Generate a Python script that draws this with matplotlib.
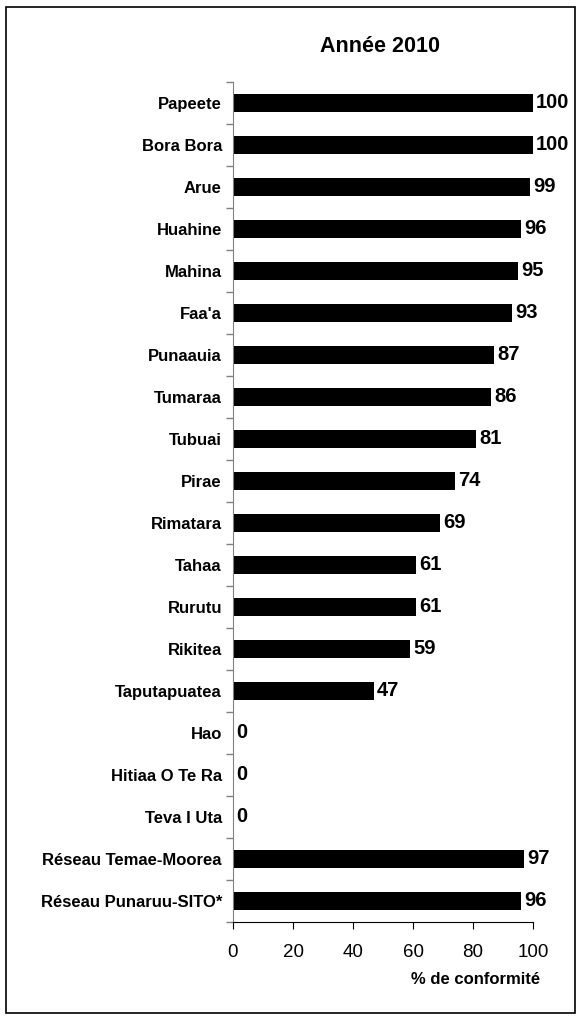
import matplotlib.pyplot as plt
import numpy as np

plt.rcParams['font.family'] = ['Liberation Sans', 'DejaVu Sans']

communes = ['Papeete', 'Bora Bora', 'Arue', 'Huahine', 'Mahina', "Faa'a",
            'Punaauia', 'Tumaraa', 'Tubuai', 'Pirae', 'Rimatara', 'Tahaa',
            'Rurutu', 'Rikitea', 'Taputapuatea', 'Hao', 'Hitiaa O Te Ra',
            'Teva I Uta', 'Réseau Temae-Moorea', 'Réseau Punaruu-SITO*']
conformite = [100, 100, 99, 96, 95, 93, 87, 86, 81, 74, 69, 61, 61, 59, 47,
              0, 0, 0, 97, 96]
xticks = [0, 20, 40, 60, 80, 100]

fig = plt.figure(figsize=(5.78, 10.19), dpi=100)
ax = fig.add_axes([233 / 578, 1 - 922 / 1019, 300 / 578, 840 / 1019])

y = np.arange(len(communes))
ax.barh(y, conformite, height=0.45, color='black')
for yi, v in zip(y, conformite):
    ax.text(v + 1.0, yi, str(v), va='center', ha='left',
            fontsize=14.5, fontweight='bold')

ax.set_ylim(len(communes) - 0.5, -0.5)
ax.set_xlim(0, 100)
ax.set_yticks(y)
ax.set_yticklabels(communes, fontsize=12, fontweight='bold')
ax.set_yticks(np.arange(len(communes) + 1) - 0.5, minor=True)
ax.tick_params(axis='y', which='major', length=0, pad=8)
ax.tick_params(axis='y', which='minor', length=5, color='#808080', width=1)
ax.set_xticks(xticks)
ax.tick_params(axis='x', length=5, labelsize=13.5, pad=11)

for side in ['top', 'right']:
    ax.spines[side].set_visible(False)
ax.spines['left'].set_color('#808080')
ax.spines['bottom'].set_color('black')

ax.set_xlabel('% de conformité', fontsize=12, fontweight='bold',
              loc='right', labelpad=8)
ax.xaxis.label.set_x(1.025)
fig.text(380 / 578, 1 - 46 / 1019, 'Année 2010', ha='center', va='center',
         fontsize=15.5, fontweight='bold')

border = plt.Rectangle((6 / 578, 6 / 1019), 569 / 578, 1006 / 1019,
                       transform=fig.transFigure, fill=False,
                       edgecolor='black', linewidth=1.2)
fig.patches.append(border)

fig.savefig('out.png', dpi=100)
